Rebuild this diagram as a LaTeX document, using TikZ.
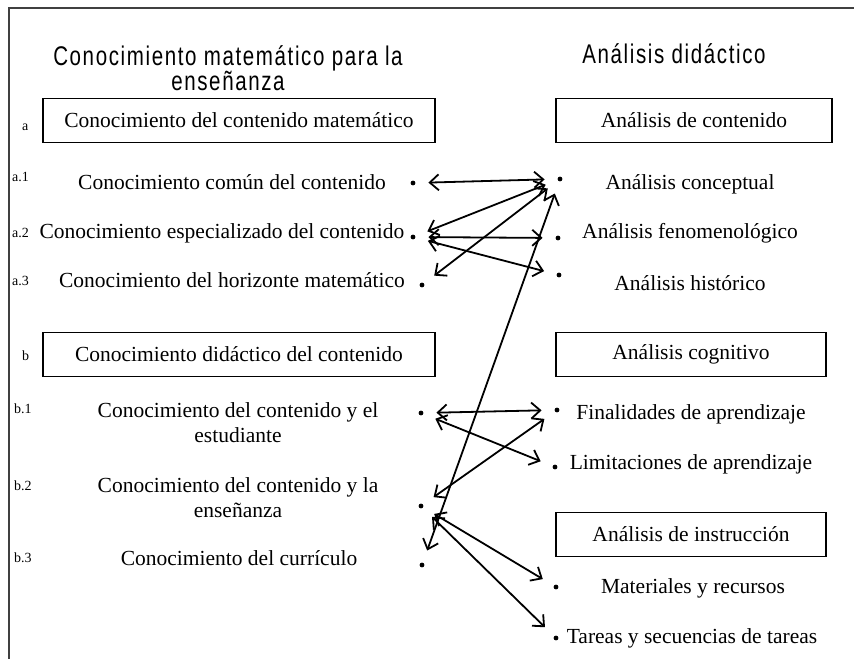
\documentclass[tikz,border=0pt]{standalone}
\usepackage{fontspec}
\setmainfont{Liberation Serif}
\newfontfamily\headfont[FakeStretch=0.76,LetterSpace=6]{Liberation Sans}
\usetikzlibrary{arrows.meta}

\begin{document}
\begin{tikzpicture}[x=1pt, y=-1pt,
	box/.style={draw, line width=1.3pt, minimum height=44pt, inner sep=0pt, font=\fontsize{21.5}{25}\selectfont},
	item/.style={anchor=base, align=center, inner sep=0pt, font=\fontsize{21.5}{25}\selectfont},
	lbl/.style={anchor=base west, inner sep=0pt, font=\fontsize{14}{16}\selectfont},
	head/.style={anchor=base, align=center, inner sep=0pt, font=\headfont\fontsize{27}{25}\selectfont},
	dot/.style={circle, fill, inner sep=1.7pt, outer sep=13pt},
	link/.style={line width=1.8pt, {Straight Barb[length=9pt,width=16pt]}-{Straight Barb[length=9pt,width=16pt]}}]
\useasboundingbox (0,0) rectangle (854,659);
% draw frame
	\draw[line width=2pt, color=black!75] (854,8) -- (9,8) -- (9,659);
% draw headings
	\node[head] (hmat) at (228,90) {Conocimiento matemático para la\\enseñanza};
	\node[head] (hdid) at (674,63) {Análisis didáctico};
% draw left column
	\node[box, minimum width=392pt] (bxa) at (239,120.5) {Conocimiento del contenido matemático};
	\node[lbl] (la) at (22,130) {a};
	\node[lbl] (la1) at (12,181) {a.1};
	\node[lbl] (la2) at (12,237) {a.2};
	\node[lbl] (la3) at (12,285) {a.3};
	\node[item] (ta1) at (232,189) {Conocimiento común del contenido};
	\node[item] (ta2) at (222,238) {Conocimiento especializado del contenido};
	\node[item] (ta3) at (232,287) {Conocimiento del horizonte matemático};
	\node[box, minimum width=392pt] (bxb) at (239,354.5) {Conocimiento didáctico del contenido};
	\node[lbl] (lb) at (22,360) {b};
	\node[lbl] (lb1) at (14,413) {b.1};
	\node[lbl] (lb2) at (14,490) {b.2};
	\node[lbl] (lb3) at (14,562) {b.3};
	\node[item] (tb1) at (238,442) {Conocimiento del contenido y el\\estudiante};
	\node[item] (tb2) at (238,517) {Conocimiento del contenido y la\\enseñanza};
	\node[item] (tb3) at (239,565) {Conocimiento del currículo};
% draw right column
	\node[box, minimum width=276pt] (bxc) at (694,120.5) {Análisis de contenido};
	\node[item] (tc1) at (690,189) {Análisis conceptual};
	\node[item] (tc2) at (690,238) {Análisis fenomenológico};
	\node[item] (tc3) at (690,290) {Análisis histórico};
	\node[box, minimum width=270pt] (bxg) at (691,354.5) {Análisis cognitivo};
	\node[item] (tg1) at (691,419) {Finalidades de aprendizaje};
	\node[item] (tg2) at (691,469) {Limitaciones de aprendizaje};
	\node[box, minimum width=270pt] (bxi) at (691,534.5) {Análisis de instrucción};
	\node[item] (ti1) at (693,593) {Materiales y recursos};
	\node[item] (ti2) at (692,643) {Tareas y secuencias de tareas};
% draw dots
	\node[dot] (a1) at (413,183) {};
	\node[dot] (a2) at (413,237) {};
	\node[dot] (a3) at (422,285) {};
	\node[dot] (b1) at (421,413) {};
	\node[dot] (b2) at (421,506) {};
	\node[dot] (b3) at (422,565) {};
	\node[dot] (c1) at (560,179) {};
	\node[dot] (c2) at (558,238) {};
	\node[dot] (c3) at (559,275) {};
	\node[dot] (g1) at (557,410) {};
	\node[dot] (g2) at (555,467) {};
	\node[dot] (i1) at (556,587) {};
	\node[dot] (i2) at (556,638) {};
% draw links
	\draw[link] (a1) -- (c1);
	\draw[link] (a2) -- (c1);
	\draw[link] (a3) -- (c1);
	\draw[link] (a2) -- (c2);
	\draw[link] (a2) -- (c3);
	\draw[link] (b3) -- (c1);
	\draw[link] (b1) -- (g1);
	\draw[link] (b1) -- (g2);
	\draw[link] (b2) -- (g1);
	\draw[link] (b2) -- (i1);
	\draw[link] (b2) -- (i2);
\end{tikzpicture}
\end{document}
